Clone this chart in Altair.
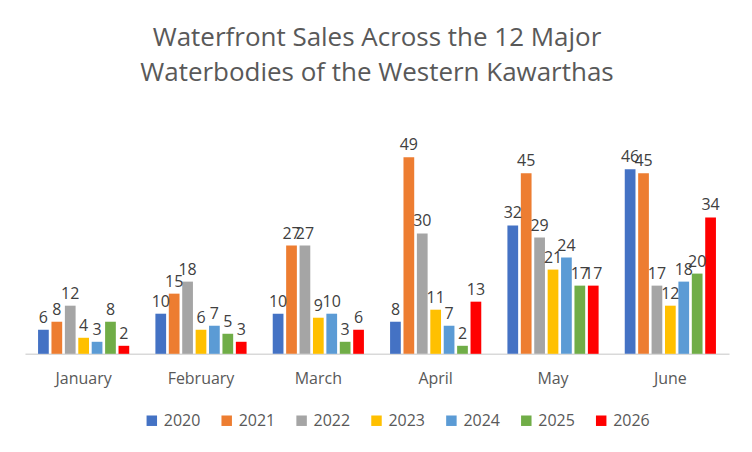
import pandas as pd
import altair as alt

# --- Données ---
months = ["January", "February", "March", "April", "May", "June"]
years = ["2020", "2021", "2022", "2023", "2024", "2025", "2026"]
colors = ["#4472C4", "#ED7D31", "#A5A5A5", "#FFC000", "#5B9BD5", "#70AD47", "#FF0000"]

sales = {
    "2020": [6, 10, 10, 8, 32, 46],
    "2021": [8, 15, 27, 49, 45, 45],
    "2022": [12, 18, 27, 30, 29, 17],
    "2023": [4, 6, 9, 11, 21, 12],
    "2024": [3, 7, 10, 7, 24, 18],
    "2025": [8, 5, 3, 2, 17, 20],
    "2026": [2, 3, 6, 13, 17, 34],
}

rows = []
for yr in years:
    for m, v in zip(months, sales[yr]):
        rows.append({"month": m, "year": yr, "sales": v})
df = pd.DataFrame(rows)

font = "Open Sans"

base = alt.Chart(df).encode(
    x=alt.X("month:N", sort=months, title=None,
            scale=alt.Scale(paddingInner=0.2, paddingOuter=0.1),
            axis=alt.Axis(labelAngle=0, ticks=False, labelFontSize=16, labelColor="#595959",
                          labelFont=font, domainColor="#D9D9D9", domainWidth=1.5, labelPadding=17)),
    xOffset=alt.XOffset("year:N", sort=years, scale=alt.Scale(paddingInner=0.2, paddingOuter=0.1)),
    y=alt.Y("sales:Q", scale=alt.Scale(domain=[0, 60]), axis=None),
)

bars = base.mark_bar().encode(
    color=alt.Color("year:N", sort=years, scale=alt.Scale(domain=years, range=colors),
                    legend=alt.Legend(title=None, orient="none", direction="horizontal",
                                      legendX=119, legendY=300,
                                      symbolType="square", symbolSize=110, symbolStrokeWidth=0,
                                      labelFontSize=16, labelColor="#595959", labelFont=font,
                                      columnPadding=18, symbolOpacity=1)),
)

labels = base.mark_text(dy=-12, fontSize=16, color="#404040", font=font).encode(
    text="sales:Q"
)

chart = (bars + labels).properties(
    width=705,
    height=241,
    padding={"left": 17, "top": 105, "right": 15, "bottom": 80},
    autosize=alt.AutoSizeParams(type="none"),
    background="white",
    title=alt.Title(
        ["Waterfront Sales Across the 12 Major", "Waterbodies of the Western Kawarthas"],
        fontSize=26, font=font, fontWeight="normal", color="#595959",
        lineHeight=35, offset=27, anchor="middle",
    ),
).configure_view(stroke=None)

chart.save("out.html", embed_options={"renderer": "svg", "actions": False})
